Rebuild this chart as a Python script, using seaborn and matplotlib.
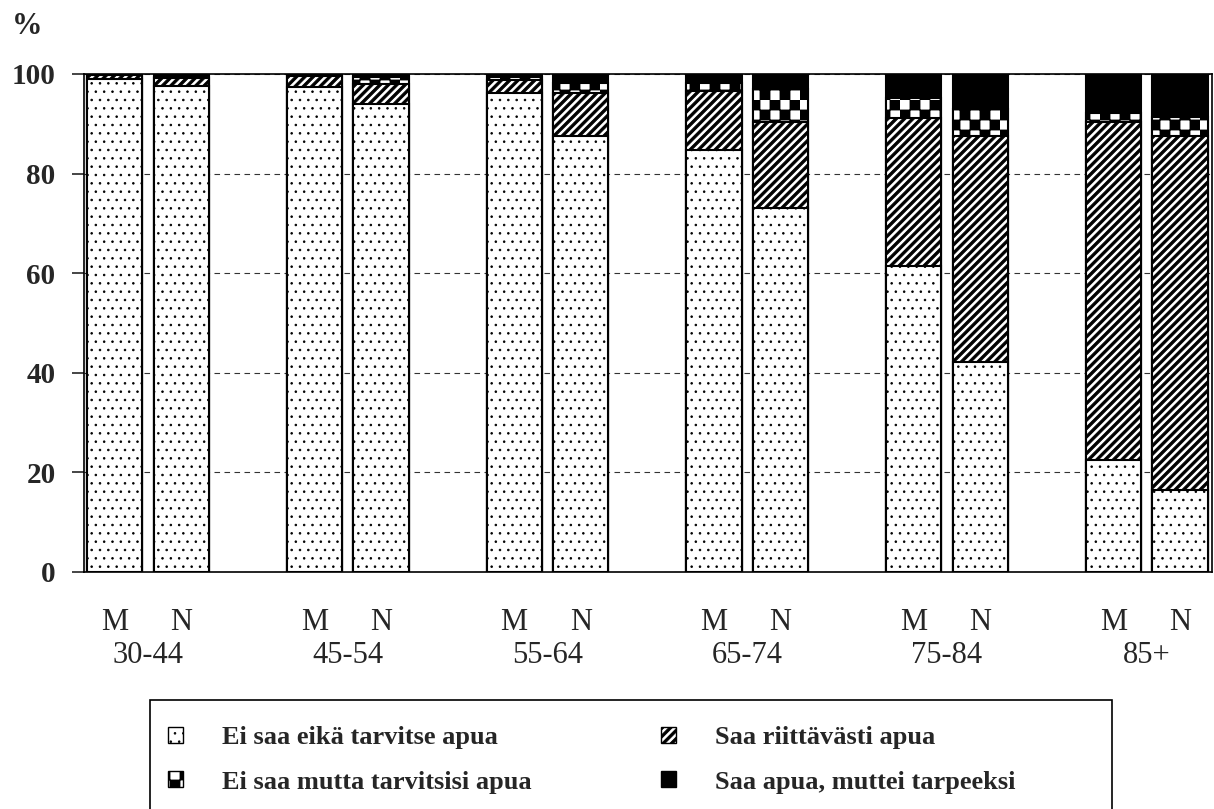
import numpy as np
import pandas as pd
import seaborn as sns
import matplotlib
matplotlib.use("Agg")
import matplotlib.pyplot as plt
import matplotlib.hatch as mhatch
from matplotlib.path import Path
from matplotlib.patches import Patch, Rectangle

# age groups and sexes (M = miehet, N = naiset)
groups = ["30-44", "45-54", "55-64", "65-74", "75-84", "85+"]
sexes = ["M", "N"]

# shares (%) per bar, order: 30-44 M, 30-44 N, 45-54 M, ...
ei_saa_eika = [99.0, 97.5, 97.3, 94.0, 96.1, 87.6, 84.7, 73.1, 61.4, 42.2, 22.5, 16.5]
saa_riittavasti = [0.7, 1.7, 2.2, 4.0, 2.7, 8.5, 11.8, 17.3, 29.7, 45.4, 67.9, 71.1]
ei_saa_mutta = [0.0, 0.2, 0.0, 1.3, 0.6, 2.0, 1.6, 6.5, 4.0, 5.3, 1.7, 3.7]
saa_muttei = [0.3, 0.6, 0.5, 0.7, 0.6, 1.9, 1.9, 3.1, 4.9, 7.1, 7.9, 8.7]

labels = ["Ei saa eikä tarvitse apua", "Ei saa mutta tarvitsisi apua",
          "Saa riittävästi apua", "Saa apua, muttei tarpeeksi"]

MOVE, LINE, CLOSE = Path.MOVETO, Path.LINETO, Path.CLOSEPOLY


# checkerboard hatch, used with the letter 'O' (replaces the big circles)
class CheckerHatch(mhatch.HatchPatternBase):
    def __init__(self, hatch, density):
        self.n = 5 if "O" in hatch else 0
        self.num_vertices = 10 * self.n * self.n

    def set_vertices_and_codes(self, vertices, codes):
        s = 1.0 / (2 * self.n)
        k = 0
        for i in range(2 * self.n):
            for j in range(2 * self.n):
                if (i + j) % 2 == 0:
                    x, y = i * s, j * s
                    vertices[k:k + 5] = [(x, y), (x + s, y), (x + s, y + s), (x, y + s), (x, y)]
                    codes[k:k + 5] = [MOVE, LINE, LINE, LINE, CLOSE]
                    k += 5


# thick filled diagonal stripes for '/' (replaces the thin lines)
class StripeHatch(mhatch.HatchPatternBase):
    def __init__(self, hatch, density):
        self.n = int(hatch.count("/") * density)
        self.num_vertices = 5 * (2 * self.n + 2) if self.n else 0

    def set_vertices_and_codes(self, vertices, codes):
        n = self.n
        w = 0.42 / n
        for i, k in enumerate(range(-n - 1, n + 1)):
            c = k / n
            vertices[5 * i:5 * i + 5] = [(-0.5, -0.5 + c), (1.5, 1.5 + c), (1.5, 1.5 + c + w),
                                         (-0.5, -0.5 + c + w), (-0.5, -0.5 + c)]
            codes[5 * i:5 * i + 5] = [MOVE, LINE, LINE, LINE, CLOSE]


mhatch._hatch_types = [t for t in mhatch._hatch_types
                       if t not in (mhatch.LargeCircles, mhatch.NorthEastHatch)] + [CheckerHatch, StripeHatch]

sns.set_style("ticks")
plt.rcParams["font.family"] = ["Liberation Serif", "DejaVu Serif"]
plt.rcParams["hatch.linewidth"] = 0.6

# table for seaborn: bar position and cumulative tops of each layer
pos = [3 * g + s for g in range(len(groups)) for s in range(len(sexes))]
df = pd.DataFrame({"pos": pos,
                   "dots": ei_saa_eika,
                   "hatch": saa_riittavasti,
                   "check": ei_saa_mutta,
                   "black": saa_muttei})
df["c1"] = df["dots"]
df["c2"] = df["c1"] + df["hatch"]
df["c3"] = df["c2"] + df["check"]
df["c4"] = df["c3"] + df["black"]

W, H = 1214, 809
fig = plt.figure(figsize=(W / 100, H / 100), dpi=100)
ax = fig.add_axes([84 / W, 1 - 572 / H, (1212 - 84) / W, (572 - 74) / H])

# layers drawn from the tallest down so each one covers the one under it
layers = [("c4", "black", None),
          ("c3", "white", "O"),
          ("c2", "white", "//"),
          ("c1", "white", "..")]
for col, fc, hatch in layers:
    sns.barplot(data=df, x="pos", y=col, native_scale=True, orient="x", width=0.83,
                color=fc, saturation=1, edgecolor="black", linewidth=1.5,
                hatch=hatch, errorbar=None, ax=ax)

ax.set_xlim(-0.46, 16.48)
ax.set_ylim(0, 100)
ax.set_xlabel("")
ax.set_ylabel("")

ax.set_yticks([0, 20, 40, 60, 80, 100])
ax.set_yticklabels(["0", "20", "40", "60", "80", "100"], fontsize=21, fontweight="bold")
ax.tick_params(axis="y", direction="out", length=8.5, width=1.2, pad=12)

ax.set_xticks(pos)
ax.set_xticklabels([s for g in groups for s in sexes], fontsize=22)
ax.set_xticks([3 * g + 0.5 for g in range(len(groups))], minor=True)
ax.set_xticklabels(groups, minor=True, fontsize=22)
ax.tick_params(axis="x", which="major", length=0, pad=26)
ax.tick_params(axis="x", which="minor", length=0, pad=50)

ax.set_axisbelow(True)
ax.yaxis.grid(True, linestyle=(0, (5, 4)), linewidth=0.8, color="#333333")
ax.xaxis.grid(False)
for sp in ax.spines.values():
    sp.set_linewidth(1.2)
    sp.set_color("black")

fig.text(12 / W, 1 - 27 / H, "%", fontsize=22, fontweight="bold", va="center", ha="left")

# legend box, open at the bottom edge of the picture
fig.add_artist(Rectangle((150 / W, -0.02), 962 / W, (809 - 700) / H + 0.02,
                         transform=fig.transFigure, fill=False, linewidth=1.2, edgecolor="black"))

handles = [Patch(facecolor="white", edgecolor="black", hatch="..", linewidth=1),
           Patch(facecolor="white", edgecolor="black", hatch="O", linewidth=1),
           Patch(facecolor="white", edgecolor="black", hatch="//", linewidth=1),
           Patch(facecolor="black", edgecolor="black", linewidth=1)]
fig.legend(handles, labels, ncol=2, loc="center left",
           bbox_to_anchor=(168 / W, 1 - 760 / H), borderaxespad=0, borderpad=0,
           prop={"size": 19, "weight": "bold"}, handlelength=0.55, handleheight=0.55,
           handletextpad=1.5, labelspacing=0.8, columnspacing=4.9, frameon=False)

fig.savefig("out.png", dpi=100)
